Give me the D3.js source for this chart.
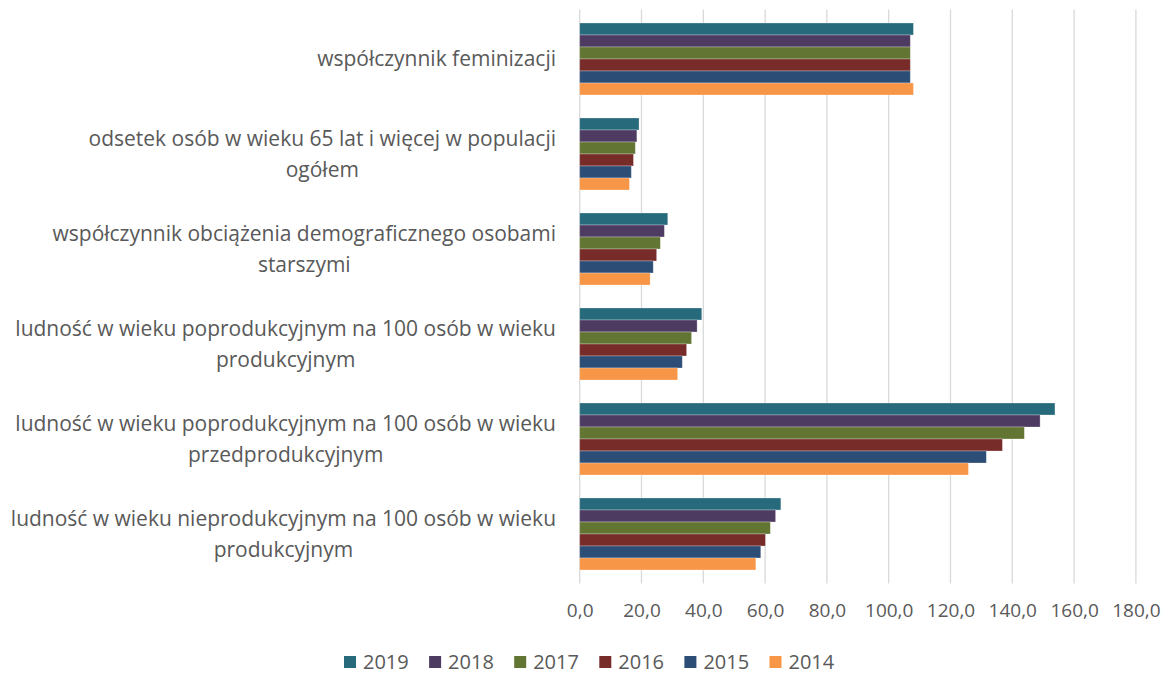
<!DOCTYPE html>
<html>
<head>
<meta charset="utf-8">
<script src="https://cdn.jsdelivr.net/npm/d3@7"></script>
<style>
  html, body { margin: 0; padding: 0; background: #fff; }
  svg { display: block; }
</style>
</head>
<body>
<svg id="chart" width="1165" height="675"></svg>
<script>
const categories = [
  ["współczynnik feminizacji"],
  ["odsetek osób w wieku 65 lat i więcej w populacji", "ogółem"],
  ["współczynnik obciążenia demograficznego osobami", "starszymi"],
  ["ludność w wieku poprodukcyjnym na 100 osób w wieku", "produkcyjnym"],
  ["ludność w wieku poprodukcyjnym na 100 osób w wieku", "przedprodukcyjnym"],
  ["ludność w wieku nieprodukcyjnym na 100 osób w wieku", "produkcyjnym"]
];
const years = ["2019", "2018", "2017", "2016", "2015", "2014"];
const v2019 = [108.0, 19.2, 28.5, 39.5, 153.8, 65.1];
const v2018 = [107.0, 18.5, 27.4, 38.0, 149.0, 63.4];
const v2017 = [107.0, 18.0, 26.1, 36.2, 143.9, 61.7];
const v2016 = [107.0, 17.4, 24.9, 34.6, 136.8, 60.1];
const v2015 = [107.0, 16.7, 23.8, 33.2, 131.6, 58.6];
const v2014 = [108.0, 16.1, 22.8, 31.7, 125.8, 57.0];
const seriesValues = [v2019, v2018, v2017, v2016, v2015, v2014];
const colors = ["#276A7C", "#4E3B62", "#637532", "#772C2A", "#2C4D75", "#F79646"];
const xTicks = [0, 20, 40, 60, 80, 100, 120, 140, 160, 180];

const svg = d3.select("#chart");
const fontFamily = "'Open Sans', 'Noto Sans', sans-serif";
const textColor = "#595959";

const plot = { left: 579.7, right: 1135.9, top: 11.5, bottom: 581.5 };

const x = d3.scaleLinear().domain([0, 180]).range([plot.left, plot.right]);
const y = d3.scaleBand().domain(d3.range(categories.length)).range([plot.top, plot.bottom]).paddingInner(0.242).paddingOuter(0.121);
const ySub = d3.scaleBand().domain(d3.range(years.length)).range([0, y.bandwidth()]);

// gridlines
svg.append("g")
  .selectAll("line")
  .data(xTicks)
  .join("line")
  .attr("x1", d => x(d)).attr("x2", d => x(d))
  .attr("y1", plot.top - 2).attr("y2", plot.bottom + 2)
  .attr("stroke", "#d9d9d9")
  .attr("stroke-width", 1.3);

// bars
const groups = svg.append("g")
  .selectAll("g")
  .data(categories.map((c, i) => i))
  .join("g")
  .attr("transform", i => `translate(0,${y(i)})`);

groups.selectAll("rect")
  .data(i => seriesValues.map((vals, s) => ({ s, v: vals[i] })))
  .join("rect")
  .attr("x", x(0))
  .attr("y", d => ySub(d.s))
  .attr("width", d => x(d.v) - x(0))
  .attr("height", ySub.bandwidth())
  .attr("fill", d => colors[d.s])
  .attr("stroke", "rgba(255,255,255,0.35)")
  .attr("stroke-width", 0.8);

// x axis labels
const xAxis = d3.axisBottom(x).tickValues(xTicks).tickSize(0)
  .tickFormat(d => d3.format(".1f")(d).replace(".", ","));
const gx = svg.append("g").attr("transform", `translate(0,${plot.bottom + 19})`).call(xAxis);
gx.select(".domain").remove();
gx.selectAll("text")
  .attr("fill", textColor)
  .attr("font-family", fontFamily)
  .attr("font-size", 19)
  .attr("dy", "0.71em");

// category labels
const labelG = svg.append("g").attr("font-family", fontFamily).attr("fill", textColor);
// calibrate font size so longest line ~541px
const probe = labelG.append("text").attr("font-size", 19).text(categories[3][0]);
const measured = probe.node().getComputedTextLength();
probe.remove();
const labelSize = 19 * 541 / measured;
const lineH = 31;
const labelRight = 556;

categories.forEach((lines, i) => {
  const cy = y(i) + y.bandwidth() / 2;
  const widths = lines.map(l => {
    const t = labelG.append("text").attr("font-size", labelSize).text(l);
    const w = t.node().getComputedTextLength();
    t.remove();
    return w;
  });
  const maxW = d3.max(widths);
  const centerX = labelRight - maxW / 2;
  const n = lines.length;
  lines.forEach((l, k) => {
    labelG.append("text")
      .attr("font-size", labelSize)
      .attr("text-anchor", "middle")
      .attr("x", centerX)
      .attr("y", cy + (k - (n - 1) / 2) * lineH)
      .attr("dy", "0.35em")
      .text(l);
  });
});

// legend
const legend = svg.append("g").attr("font-family", fontFamily);
const legX0 = 344, legStep = 85.1, legY = 662;
years.forEach((yr, i) => {
  const lx = legX0 + i * legStep;
  legend.append("rect")
    .attr("x", lx).attr("y", legY - 6)
    .attr("width", 12).attr("height", 12)
    .attr("fill", colors[i]);
  legend.append("text")
    .attr("x", lx + 19).attr("y", legY)
    .attr("dy", "0.35em")
    .attr("font-size", 20)
    .attr("fill", textColor)
    .text(yr);
});
</script>
</body>
</html>
